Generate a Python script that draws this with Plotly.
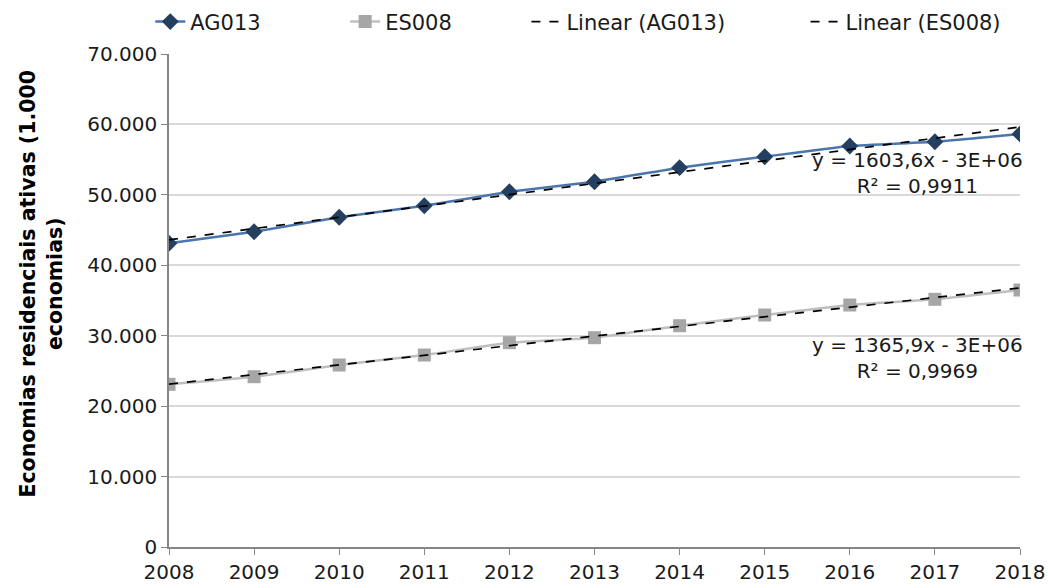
import numpy as np
import plotly.graph_objects as go

# Active residential connections per year
years = [2008, 2009, 2010, 2011, 2012, 2013, 2014, 2015, 2016, 2017, 2018]
ag013 = [43120, 44770, 46810, 48460, 50450, 51870, 53860, 55420, 56940, 57550, 58640]
es008 = [23100, 24180, 25840, 27260, 29010, 29720, 31420, 32940, 34360, 35170, 36490]

# Linear trend slopes and fit quality
slope_ag013, r2_ag013 = 1603.6, "0,9911"
slope_es008, r2_es008 = 1365.9, "0,9969"
y_ticks = [0, 10000, 20000, 30000, 40000, 50000, 60000, 70000]

FONT = "DejaVu Sans"
TEXT = "#1a1a1a"


def trend(xs, ys, slope):
    xs = np.asarray(xs, dtype=float)
    ys = np.asarray(ys, dtype=float)
    return ys.mean() + slope * (xs - xs.mean())


fig = go.Figure()
fig.add_trace(go.Scatter(
    x=years, y=ag013, name="AG013", mode="lines+markers", legend="legend",
    line=dict(color="#4a76ac", width=2.5, shape="spline", smoothing=0.4),
    marker=dict(symbol="diamond", size=13, color="#243f60"),
))
fig.add_trace(go.Scatter(
    x=years, y=es008, name="ES008", mode="lines+markers", legend="legend2",
    line=dict(color="#bfbfbf", width=2.5, shape="spline", smoothing=0.4),
    marker=dict(symbol="square", size=13, color="#a6a6a6"),
))
fig.add_trace(go.Scatter(
    x=years, y=trend(years, ag013, slope_ag013), name="Linear (AG013)",
    mode="lines", legend="legend3",
    line=dict(color="black", width=1.7, dash="dash"),
))
fig.add_trace(go.Scatter(
    x=years, y=trend(years, es008, slope_es008), name="Linear (ES008)",
    mode="lines", legend="legend4",
    line=dict(color="black", width=1.7, dash="dash"),
))

eq_font = dict(family=FONT, size=20, color=TEXT)
fig.add_annotation(
    x=2016.8, y=53100, xref="x", yref="y", showarrow=False, align="center",
    text=f"y = {str(slope_ag013).replace('.', ',')}x - 3E+06<br>R² = {r2_ag013}",
    font=eq_font,
)
fig.add_annotation(
    x=2016.8, y=26900, xref="x", yref="y", showarrow=False, align="center",
    text=f"y = {str(slope_es008).replace('.', ',')}x - 3E+06<br>R² = {r2_es008}",
    font=eq_font,
)

# Vertical axis title
fig.add_annotation(
    x=-0.15, y=0.535, xref="paper", yref="paper", xanchor="center", yanchor="middle",
    showarrow=False, textangle=-90, align="center",
    text="<b>Economias residenciais ativas (1.000<br>economias)</b>",
    font=dict(family=FONT, size=20.5, color="#000000"),
)


def legend_at(x):
    return dict(
        x=x, xanchor="left", y=1.065, yanchor="middle",
        font=dict(family=FONT, size=21, color=TEXT),
        bgcolor="rgba(0,0,0,0)", borderwidth=0,
    )


fig.update_layout(
    width=1048, height=588,
    margin=dict(l=169, r=28, t=54, b=41, autoexpand=False),
    paper_bgcolor="white", plot_bgcolor="white",
    separators=",.",
    font=dict(family=FONT, size=20, color=TEXT),
    showlegend=True,
    legend=legend_at(-0.022),
    legend2=legend_at(0.207),
    legend3=legend_at(0.420),
    legend4=legend_at(0.748),
    xaxis=dict(
        range=[2008, 2018], tickmode="array", tickvals=years,
        showgrid=False, zeroline=False,
        showline=True, linecolor="#868686", linewidth=1.5,
        ticks="outside", ticklen=6, tickcolor="#868686",
        tickfont=dict(family=FONT, size=20, color=TEXT),
    ),
    yaxis=dict(
        range=[0, 70000], tickmode="array", tickvals=y_ticks, tickformat=",d",
        showgrid=True, gridcolor="#d9d9d9", gridwidth=1.5, zeroline=False,
        showline=True, linecolor="#868686", linewidth=1.5,
        ticks="outside", ticklen=6, tickcolor="#868686",
        tickfont=dict(family=FONT, size=20, color=TEXT),
    ),
)

fig.write_html("out.html")
